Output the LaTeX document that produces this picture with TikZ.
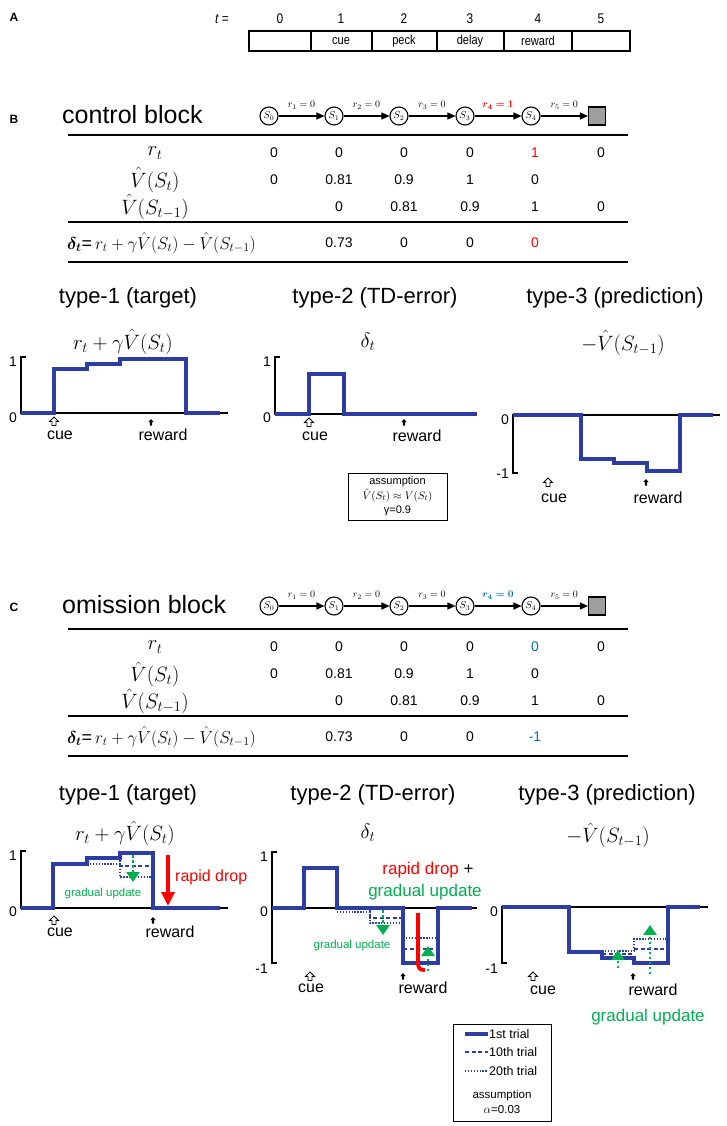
\documentclass[tikz,border=0pt]{standalone}
\usepackage{amsmath}
\usepackage{fontspec}
\setmainfont{Liberation Sans}
\newfontfamily\narrowfont[FakeStretch=0.85]{Liberation Sans}
\usetikzlibrary{arrows.meta}
\definecolor{tdblue}{RGB}{46,60,165}
\definecolor{tdgreen}{RGB}{0,176,80}
\definecolor{tdred}{RGB}{255,0,0}
\definecolor{tdcyan}{RGB}{0,112,192}
\newcommand\fs[1]{\fontsize{#1}{#1}\selectfont}

\newcommand\makechain[4]{%
  \foreach \x [count=\i from 0] in {269,334,399,465,531} {\node[state] (#2s\i) at (\x,#1) {$S_{\i}$};}
  \node[term] (#2s5) at (597,#1) {};
  \draw[chainarrow] (#2s0) -- node[rlab] {$r_1=0$} (#2s1);
  \draw[chainarrow] (#2s1) -- node[rlab] {$r_2=0$} (#2s2);
  \draw[chainarrow] (#2s2) -- node[rlab] {$r_3=0$} (#2s3);
  \draw[chainarrow] (#2s3) -- node[rlab,text=#4] {$#3$} (#2s4);
  \draw[chainarrow] (#2s4) -- node[rlab] {$r_5=0$} (#2s5);
}

\newcommand\maketable[5]{%
  \begin{scope}[shift={(0,#1)}]
    \draw[rule] (68,0) -- (628,0);
    \node[rowlab] (#2lr) at (155,18) {$r_t$};
    \node[rowlab] (#2lv) at (155,45) {$\hat{V}(S_t)$};
    \node[rowlab] (#2lw) at (155,72) {$\hat{V}(S_{t-1})$};
    \foreach \x [count=\i] in {274,339,404,470} {\node[num] (#2r\i) at (\x,18) {0};}
    \node[num,text=#3] (#2r5) at (535,18) {#4};
    \node[num] (#2r6) at (601,18) {0};
    \foreach \x/\v [count=\i] in {274/0,339/0.81,404/0.9,470/1,535/0} {\node[num] (#2v\i) at (\x,45) {\v};}
    \foreach \x/\v [count=\i] in {339/0,404/0.81,470/0.9,535/1,601/0} {\node[num] (#2w\i) at (\x,72) {\v};}
    \draw[rule] (68,87) -- (628,87);
    \node[font=\fs{18},anchor=west,inner sep=0pt] (#2ld) at (67,108) {$\boldsymbol{\delta_t}$=\,$r_t+\gamma\hat{V}(S_t)-\hat{V}(S_{t-1})$};
    \foreach \x/\v [count=\i] in {339/0.73,404/0,470/0} {\node[num] (#2d\i) at (\x,108) {\v};}
    \node[num,text=#3] (#2d4) at (535,108) {#5};
    \draw[rule] (68,127) -- (628,127);
  \end{scope}
}

\begin{document}
\begin{tikzpicture}[x=1pt,y=-1pt,
  hdr/.style={font=\bfseries\fs{12}},
  anum/.style={font=\narrowfont\fs{14}},
  acell/.style={font=\narrowfont\fs{13}},
  blocktitle/.style={font=\fs{25},anchor=west,inner sep=0pt},
  state/.style={circle,draw,line width=1.1pt,minimum size=18pt,inner sep=0pt,font=\fs{10}},
  term/.style={draw,line width=1.1pt,fill=black!38,minimum width=17pt,minimum height=18pt,inner sep=0pt},
  chainarrow/.style={line width=1.4pt,-{Triangle[length=8pt,width=7pt]}},
  rlab/.style={font=\fs{10},above=5pt,inner sep=1pt},
  rule/.style={line width=1.5pt},
  rowlab/.style={font=\fs{20},inner sep=0pt},
  num/.style={font=\fs{14},inner sep=0pt},
  title/.style={font=\fs{22}},
  mlab/.style={font=\fs{20}},
  ax/.style={line width=1.5pt},
  axlab/.style={font=\fs{14},anchor=east,inner sep=0pt},
  curve/.style={tdblue,line width=3.2pt},
  curveten/.style={tdblue,line width=1.5pt,dash pattern=on 4pt off 2.5pt},
  curvetw/.style={tdblue,line width=1.5pt,dash pattern=on 1.3pt off 1.6pt},
  garrow/.style={tdgreen,line width=2.8pt,dash pattern=on 2.5pt off 2.5pt,-{Triangle[length=10pt,width=13pt]}},
  rarrow/.style={tdred,line width=3.8pt,-{Triangle[length=14pt,width=13pt]}},
  evlab/.style={font=\fs{16}},
  smallg/.style={font=\fs{11.5},text=tdgreen},
  bigg/.style={font=\fs{17},text=tdgreen},
  cuemark/.pic={\draw[line width=0.9pt,fill=white] (0,0) -- (4.5,4.5) -- (2,4.5) -- (2,8.5) -- (-2,8.5) -- (-2,4.5) -- (-4.5,4.5) -- cycle;},
  rewmark/.pic={\fill (0,0) -- (2.7,3.2) -- (1.1,3.2) -- (1.1,6.5) -- (-1.1,6.5) -- (-1.1,3.2) -- (-2.7,3.2) -- cycle;}
]
\useasboundingbox (0,0) rectangle (727,1126);
\fill[white] (0,0) rectangle (727,1126);

% ---------------- A
\node[hdr] (labA) at (14,17) {A};
\node[anum] (teq) at (222,19) {\itshape t\upshape\ =};
\foreach \x [count=\i from 0] in {280,341,404,470,538,601} {\node[anum] (tn\i) at (\x,19) {\i};}
\draw[line width=1.5pt] (249,31) rectangle (630,51);
\foreach \x in {311,372,437,504,572} {\draw[line width=1.5pt] (\x,31) -- (\x,51);}
\node[acell] (ccue) at (341,41) {cue};
\node[acell] (cpeck) at (404,41) {peck};
\node[acell] (cdelay) at (470,41) {delay};
\node[acell] (creward) at (538,41) {reward};

% ---------------- B
\node[hdr] (labB) at (14,119) {B};
\node[blocktitle] (ctl) at (62,115) {control block};
\makechain{116}{b}{\boldsymbol{r_4=1}}{tdred}
\maketable{135}{b}{tdred}{1}{0}

% B plots titles
\node[title] (bt1) at (128,298) {type-1 (target)};
\node[title] (bt2) at (375,298) {type-2 (TD-error)};
\node[title] (bt3) at (615,298) {type-3 (prediction)};
\node[mlab] (bf1) at (123,342) {$r_t+\gamma\hat{V}(S_t)$};
\node[mlab] (bf2) at (368,342) {$\delta_t$};
\node[mlab] (bf3) at (623,343) {$-\hat{V}(S_{t-1})$};

% B type-1
\draw[ax] (26,357) -- (21,357) -- (21,413) -- (228,413);
\node[axlab] (b1y1) at (17,362) {1};
\node[axlab] (b1y0) at (17,418) {0};
\draw[curve] (21,413) -- (54,413) -- (54,369) -- (87,369) -- (87,364) -- (120,364) -- (120,359) -- (186,359) -- (186,413) -- (220,413);
\pic at (54,417) {cuemark};
\pic at (151,419) {rewmark};
\node[evlab] (b1cue) at (60,435) {cue};
\node[evlab] (b1rew) at (163,435) {reward};

% B type-2
\draw[ax] (280,357) -- (275,357) -- (275,414) -- (477,414);
\node[axlab] (b2y1) at (271,362) {1};
\node[axlab] (b2y0) at (271,418) {0};
\draw[curve] (275,414) -- (309,414) -- (309,374) -- (344,374) -- (344,414) -- (477,414);
\pic at (309,418) {cuemark};
\pic at (404,419) {rewmark};
\node[evlab] (b2cue) at (315,436) {cue};
\node[evlab] (b2rew) at (417,436) {reward};
\node[draw,line width=1pt,align=center,font=\fontsize{11}{14.5}\selectfont,minimum width=99pt,minimum height=47pt,inner sep=1pt] (assB) at (397.5,496.5) {assumption\\ $\hat{V}(S_t)\approx V(S_t)$\\ γ=0.9};

% B type-3
\draw[ax] (518,473) -- (513,473) -- (513,415) -- (720,415);
\node[axlab] (b3y0) at (509,420) {0};
\node[axlab] (b3y1) at (509,474) {-1};
\draw[curve] (513,415) -- (581,415) -- (581,459) -- (614,459) -- (614,463) -- (647,463) -- (647,471) -- (680,471) -- (680,415) -- (713,415);
\pic at (548,478) {cuemark};
\pic at (646,479) {rewmark};
\node[evlab] (b3cue) at (554,498) {cue};
\node[evlab] (b3rew) at (658,498) {reward};

% ---------------- C
\node[hdr] (labC) at (14,607) {C};
\node[blocktitle] (omi) at (62,605) {omission block};
\makechain{606}{c}{\boldsymbol{r_4=0}}{tdcyan}
\maketable{629}{c}{tdcyan}{0}{-1}

\node[title] (ct1) at (128,795) {type-1 (target)};
\node[title] (ct2) at (373,795) {type-2 (TD-error)};
\node[title] (ct3) at (607,795) {type-3 (prediction)};
\node[mlab] (cf1) at (125,833) {$r_t+\gamma\hat{V}(S_t)$};
\node[mlab] (cf2) at (368,833) {$\delta_t$};
\node[mlab] (cf3) at (608,835) {$-\hat{V}(S_{t-1})$};

% C type-1
\draw[ax] (26,851) -- (21,851) -- (21,908) -- (228,908);
\node[axlab] (c1y1) at (17,856) {1};
\node[axlab] (c1y0) at (17,912) {0};
\draw[curvetw] (87,864) -- (120,864) -- (120,877) -- (153,877);
\draw[curveten] (120,858) -- (120,866) -- (153,866);
\draw[curve] (21,908) -- (53,908) -- (53,864) -- (87,864) -- (87,858) -- (120,858) -- (120,853) -- (153,853) -- (153,908) -- (220,908);
\draw[garrow] (133,855) -- (133,882);
\node[smallg] (c1gu) at (103,894) {gradual update};
\draw[rarrow] (168,855) -- (168,906);
\node[font=\fs{16},text=tdred,anchor=west,inner sep=0pt] (c1rd) at (175,877) {rapid drop};
\pic at (54,916) {cuemark};
\pic at (153,917) {rewmark};
\node[evlab] (c1cue) at (60,932) {cue};
\node[evlab] (c1rew) at (170,932) {reward};

% C type-2
\draw[ax] (277,852) -- (272,852) -- (272,963) -- (277,963);
\draw[ax] (272,908) -- (477,908);
\node[axlab] (c2y1) at (268,857) {1};
\node[axlab] (c2y0) at (268,912) {0};
\node[axlab] (c2ym) at (268,969) {-1};
\draw[curvetw] (337,912) -- (370,912) -- (370,923) -- (403,923);
\draw[curvetw] (403,938) -- (438,938);
\draw[curveten] (370,908) -- (370,918) -- (403,918);
\draw[curveten] (403,949) -- (438,949);
\draw[curve] (272,908) -- (304,908) -- (304,868) -- (337,868) -- (337,908) -- (403,908) -- (403,963) -- (438,963) -- (438,908) -- (472,908);
\draw[garrow] (383,910) -- (383,935);
\draw[tdred,line width=3.8pt] (418,913) -- (418,962) .. controls (418,969) and (420,970) .. (425,970);
\draw[garrow] (428,971) -- (428,946);
\node[font=\fs{17},inner sep=0pt] (c2rd) at (428,870) {\textcolor{tdred}{rapid drop} +};
\node[bigg,inner sep=0pt] (c2gu) at (425,892) {gradual update};
\node[smallg] (c2gs) at (352,946) {gradual update};
\pic at (310,972) {cuemark};
\pic at (403,973) {rewmark};
\node[evlab] (c2cue) at (311,988) {cue};
\node[evlab] (c2rew) at (423,988) {reward};

% C type-3
\draw[ax] (507,963) -- (502,963) -- (502,907) -- (708,907);
\node[axlab] (c3y0) at (498,912) {0};
\node[axlab] (c3ym) at (498,969) {-1};
\draw[curvetw] (602,951) -- (634,951) -- (634,939) -- (667,939);
\draw[curveten] (602,954) -- (634,954);
\draw[curveten] (634,949) -- (667,949);
\draw[curve] (502,907) -- (569,907) -- (569,952) -- (602,952) -- (602,958) -- (634,958) -- (634,963) -- (668,963) -- (668,907) -- (700,907);
\draw[garrow] (618,968) -- (618,950);
\draw[garrow] (650,974) -- (650,925);
\pic at (533,972) {cuemark};
\pic at (633,973) {rewmark};
\node[evlab] (c3cue) at (543,990) {cue};
\node[evlab] (c3rew) at (653,990) {reward};
\node[bigg] (c3gu) at (648,1017) {gradual update};

% legend
\node[draw,line width=1pt,minimum width=98pt,minimum height=97pt,inner sep=0pt] (leg) at (502,1072.5) {};
\draw[curve] (465,1034) -- (488,1034);
\draw[curveten] (465,1052) -- (488,1052);
\draw[curvetw] (465,1071) -- (488,1071);
\node[font=\fs{12.5},anchor=west,inner sep=1pt] (leg1) at (488,1034) {1st trial};
\node[font=\fs{12.5},anchor=west,inner sep=1pt] (leg2) at (488,1052) {10th trial};
\node[font=\fs{12.5},anchor=west,inner sep=1pt] (leg3) at (488,1071) {20th trial};
\node[font=\fontsize{11.5}{15}\selectfont,align=center] (legA) at (502,1102) {assumption\\ $\alpha$=0.03};
\end{tikzpicture}
\end{document}
